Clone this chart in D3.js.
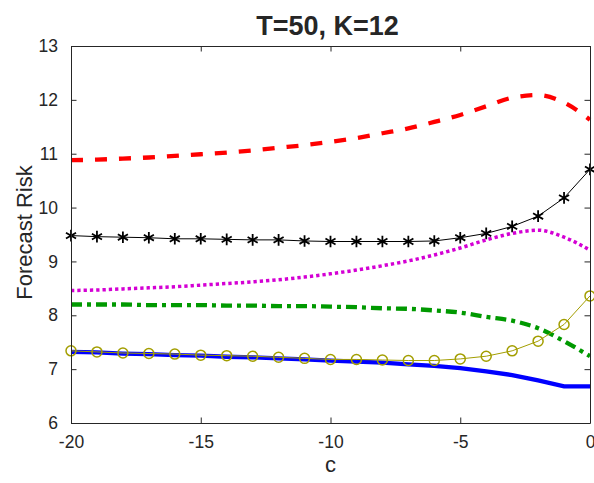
<!DOCTYPE html>
<html>
<head>
<meta charset="utf-8">
<script src="https://cdn.jsdelivr.net/npm/d3@7"></script>
<style>
  body { margin: 0; background: #fff; }
  text { font-family: "Liberation Sans", Arial, Helvetica, sans-serif; fill: #262626; }
</style>
</head>
<body>
<div id="chart"></div>
<script>
const width = 594
const height = 483

// c values (x axis)
const cValues = [-20,-19,-18,-17,-16,-15,-14,-13,-12,-11,-10,-9,-8,-7,-6,-5,-4,-3,-2,-1,0]

// series values
const redDashed = [10.88,10.89,10.91,10.93,10.96,10.99,11.02,11.06,11.11,11.16,11.22,11.29,11.38,11.47,11.59,11.72,11.88,12.04,12.09,11.95,11.63]
const blackStars = [9.48,9.46,9.45,9.44,9.42,9.42,9.41,9.40,9.40,9.38,9.37,9.37,9.37,9.37,9.38,9.44,9.52,9.65,9.84,10.18,10.71]
const magentaDotted = [8.46,8.47,8.49,8.51,8.53,8.56,8.59,8.62,8.66,8.71,8.77,8.84,8.92,9.01,9.12,9.25,9.40,9.52,9.58,9.45,9.21]
const greenDashDot = [8.20,8.20,8.20,8.19,8.19,8.19,8.18,8.18,8.17,8.17,8.16,8.15,8.13,8.12,8.09,8.05,7.97,7.90,7.76,7.52,7.24]
const oliveCircles = [7.34,7.32,7.30,7.29,7.28,7.26,7.25,7.24,7.22,7.20,7.18,7.18,7.17,7.16,7.16,7.19,7.24,7.34,7.52,7.83,8.36]
const blueSolid = [7.32,7.31,7.29,7.28,7.26,7.25,7.23,7.22,7.20,7.18,7.16,7.14,7.12,7.09,7.06,7.02,6.96,6.89,6.79,6.68,6.68]

const xTicks = [-20,-15,-10,-5,0]
const yTicks = [6,7,8,9,10,11,12,13]

const margin = {top: 46, right: 4, bottom: 60, left: 71}

let svg = d3.select("#chart")
            .append("svg")
            .attr("width", width)
            .attr("height", height)

let x = d3.scaleLinear().domain([-20, 0]).range([margin.left, width - margin.right])
let y = d3.scaleLinear().domain([6, 13]).range([height - margin.bottom, margin.top])

let plot = svg.append("g")

function series(vals) {
  return cValues.map((c, i) => [c, vals[i]])
}

let line = d3.line().x(d => x(d[0])).y(d => y(d[1]))
let smooth = d3.line().x(d => x(d[0])).y(d => y(d[1])).curve(d3.curveMonotoneX)

// red dashed
plot.append("path")
    .datum(series(redDashed))
    .attr("d", smooth)
    .attr("fill", "none")
    .attr("stroke", "#ff0000")
    .attr("stroke-width", 4.3)
    .attr("stroke-dasharray", "12,12")

// black line with asterisks
plot.append("path")
    .datum(series(blackStars))
    .attr("d", line)
    .attr("fill", "none")
    .attr("stroke", "#000")
    .attr("stroke-width", 1)

let star = d3.symbol().type(d3.symbolAsterisk).size(95)
plot.append("g")
    .selectAll("path")
    .data(series(blackStars))
    .enter()
    .append("path")
    .attr("d", star)
    .attr("transform", d => "translate(" + x(d[0]) + "," + y(d[1]) + ")")
    .attr("fill", "none")
    .attr("stroke", "#000")
    .attr("stroke-width", 1.8)

// magenta dotted
plot.append("path")
    .datum(series(magentaDotted))
    .attr("d", smooth)
    .attr("fill", "none")
    .attr("stroke", "#d400d4")
    .attr("stroke-width", 3.5)
    .attr("stroke-dasharray", "3.3,3")

// green dash-dot
plot.append("path")
    .datum(series(greenDashDot))
    .attr("d", smooth)
    .attr("fill", "none")
    .attr("stroke", "#009900")
    .attr("stroke-width", 4.3)
    .attr("stroke-dasharray", "11,5,4,5")

// blue solid
plot.append("path")
    .datum(series(blueSolid))
    .attr("d", line)
    .attr("fill", "none")
    .attr("stroke", "#0000ff")
    .attr("stroke-width", 4.3)

// olive circles
plot.append("path")
    .datum(series(oliveCircles))
    .attr("d", line)
    .attr("fill", "none")
    .attr("stroke", "#a39e00")
    .attr("stroke-width", 1)

plot.append("g")
    .selectAll("circle")
    .data(series(oliveCircles))
    .enter()
    .append("circle")
    .attr("cx", d => x(d[0]))
    .attr("cy", d => y(d[1]))
    .attr("r", 5)
    .attr("fill", "none")
    .attr("stroke", "#a39e00")
    .attr("stroke-width", 1.5)

// axes box with inward ticks
const tickLen = 5.5
let axisColor = "#262626"
let fmt = d => String(d)   // plain hyphen minus like the original

let xAxis = svg.append("g")
               .attr("transform", "translate(0," + y(6) + ")")
               .call(d3.axisBottom(x).tickValues(xTicks).tickFormat(fmt).tickSizeInner(-tickLen).tickSizeOuter(0).tickPadding(13))
let xAxisTop = svg.append("g")
               .attr("transform", "translate(0," + y(13) + ")")
               .call(d3.axisTop(x).tickValues(xTicks).tickSizeInner(-tickLen).tickSizeOuter(0).tickFormat(""))
let yAxis = svg.append("g")
               .attr("transform", "translate(" + x(-20) + ",0)")
               .call(d3.axisLeft(y).tickValues(yTicks).tickFormat(fmt).tickSizeInner(-tickLen).tickSizeOuter(0).tickPadding(13))
let yAxisRight = svg.append("g")
               .attr("transform", "translate(" + x(0) + ",0)")
               .call(d3.axisRight(y).tickValues(yTicks).tickSizeInner(-tickLen).tickSizeOuter(0).tickFormat(""))

svg.selectAll(".domain, .tick line").attr("stroke", axisColor).attr("stroke-width", 1)
svg.selectAll(".tick text")
   .attr("font-size", "17.5px")
   .attr("font-family", "Liberation Sans, Arial, sans-serif")
   .attr("fill", axisColor)

// labels
svg.append("text")
   .attr("x", (x(-20) + x(0)) / 2 - 3)
   .attr("y", 35)
   .attr("text-anchor", "middle")
   .attr("font-size", "27px")
   .attr("font-weight", "bold")
   .attr("fill", "#000")
   .text("T=50, K=12")

svg.append("text")
   .attr("x", (x(-20) + x(0)) / 2)
   .attr("y", 472)
   .attr("text-anchor", "middle")
   .attr("font-size", "22px")
   .text("c")

svg.append("text")
   .attr("transform", "translate(32," + (y(9.5) - 2) + ") rotate(-90)")
   .attr("text-anchor", "middle")
   .attr("font-size", "22px")
   .text("Forecast Risk")
</script>
</body>
</html>
